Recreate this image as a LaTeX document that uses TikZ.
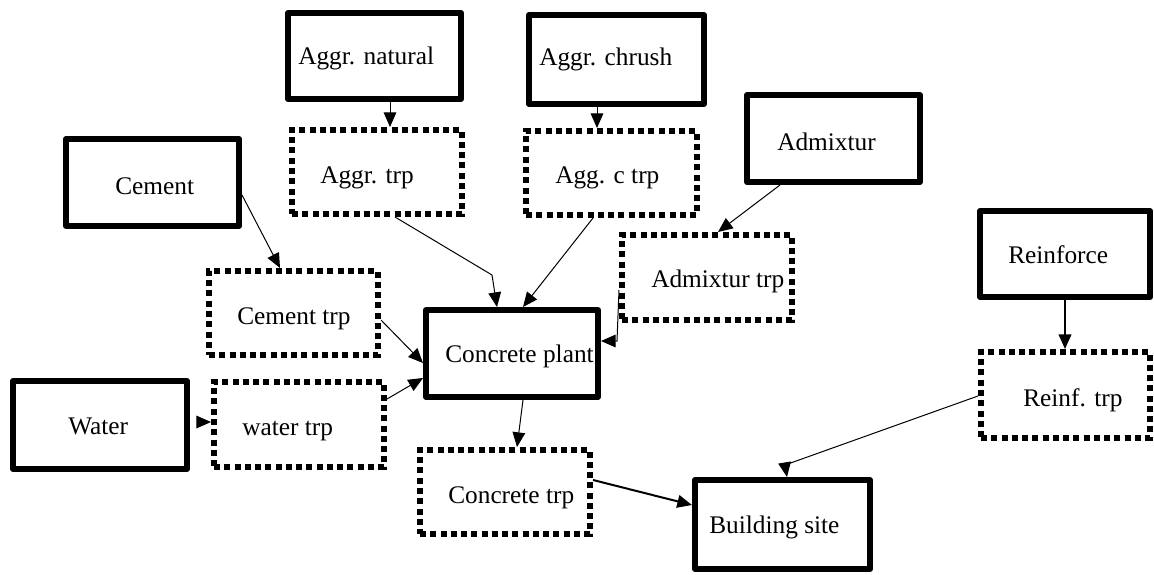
\documentclass[tikz,border=0pt]{standalone}
\usepackage{fontspec}
\setmainfont{Liberation Serif}
\usetikzlibrary{arrows.meta,calc}
\tikzset{
  solidbox/.style 2 args={draw, line width=4.5pt, line join=round, inner sep=0pt,
    minimum width=#1*0.75pt, minimum height=#2*0.75pt},
  dotbox/.style 2 args={draw, line width=4.5pt, dash pattern=on 4.5pt off 3.2pt, inner sep=0pt,
    minimum width=#1*0.75pt, minimum height=#2*0.75pt},
  txt/.style={anchor=base west, inner sep=0pt, font=\fontsize{19}{22}\selectfont},
  conn/.style={line width=0.75pt, -{Triangle[length=11pt,width=9.5pt]}},
  thickconn/.style={line width=1.5pt, -{Triangle[length=11pt,width=9.5pt]}}
}
\begin{document}
\begin{tikzpicture}[x=0.75pt,y=-0.75pt]
\useasboundingbox (0,0) rectangle (1154,575);
% boxes
\node[solidbox={173}{86}] (natural) at (374.5,56) {};
\node[dotbox={170}{84}] (aggtrp) at (377,172) {};
\node[solidbox={175}{89}] (chrush) at (616.5,59.5) {};
\node[dotbox={171}{84}] (agctrp) at (611.5,173) {};
\node[solidbox={173}{87}] (admix) at (833.5,138.5) {};
\node[dotbox={170}{85}] (admtrp) at (707,277.5) {};
\node[solidbox={173}{87}] (cement) at (152.5,182.5) {};
\node[dotbox={169}{84}] (cemtrp) at (293.5,313) {};
\node[solidbox={174}{88}] (water) at (100,425) {};
\node[dotbox={170}{85}] (wattrp) at (299,424.5) {};
\node[solidbox={172}{87}] (plant) at (512,353.5) {};
\node[dotbox={170}{84}] (contrp) at (505,492) {};
\node[solidbox={175}{89}] (site) at (782.5,524.5) {};
\node[solidbox={170}{86}] (reinf) at (1065,254) {};
\node[dotbox={169}{86}] (reinftrp) at (1065.5,395) {};
% texts
\node[txt] (natural-t) at (298,64) {Aggr. natural};
\node[txt] (aggtrp-t) at (320,183) {Aggr. trp};
\node[txt] (chrush-t) at (539,65) {Aggr. chrush};
\node[txt] (agctrp-t) at (555,183) {Agg. c trp};
\node[txt] (admix-t) at (777,150) {Admixtur};
\node[txt] (admtrp-t) at (651,287) {Admixtur trp};
\node[txt] (cement-t) at (115,194) {Cement};
\node[txt] (cemtrp-t) at (237,324) {Cement trp};
\node[txt] (water-t) at (68,434) {Water};
\node[txt] (wattrp-t) at (242,435) {water trp};
\node[txt] (plant-t) at (445,362) {Concrete plant};
\node[txt] (contrp-t) at (448,503) {Concrete trp};
\node[txt] (site-t) at (709,533) {Building site};
\node[txt] (reinf-t) at (1008,263) {Reinforce};
\node[txt] (reinftrp-t) at (1023,406) {Reinf. trp};
% kink coordinates
\coordinate (k1) at (492,275);
\coordinate (k2) at (617,341);
\coordinate (k3) at (785,465);
% connectors
\draw[conn] ($(natural.south)+(15.5,0)$) -- ($(aggtrp.north)+(13,0)$);
\draw[conn] ($(chrush.south)+(-19.5,0)$) -- ($(agctrp.north)+(-14.5,0)$);
\draw[conn] ($(admix.south)+(-53.5,0)$) -- ($(admtrp.north)+(11,0)$);
\draw[conn] ($(aggtrp.south)+(18,0)$) -- (k1) -- ($(plant.north)+(-15,0)$);
\draw[conn] ($(agctrp.south)+(-18.5,0)$) -- ($(plant.north)+(11,0)$);
\draw[conn] ($(cement.east)+(0,12.5)$) -- ($(cemtrp.north)+(-13.5,0)$);
\draw[conn] ($(cemtrp.east)+(0,7)$) -- ($(plant.west)+(0,9.5)$);
\draw[conn] ($(wattrp.east)+(0,-25.5)$) -- ($(plant.west)+(0,24.5)$);
\draw[conn] ($(water.east)+(7,-3)$) -- ($(wattrp.west)+(0,-2.5)$);
\draw[conn] ($(admtrp.west)+(0,12.5)$) -- (k2) -- ($(plant.east)+(0,-12.5)$);
\draw[conn] ($(plant.south)+(11,0)$) -- ($(contrp.north)+(12,0)$);
\draw[thickconn] ($(contrp.east)+(0,-12)$) -- ($(site.west)+(0,-19.5)$);
\draw[thickconn] (reinf.south) -- (reinf.south |- reinftrp.north);
\draw[conn] ($(reinftrp.west)+(0,1)$) -- (k3) -- ($(site.north)+(4.5,0)$);
\end{tikzpicture}
\end{document}
